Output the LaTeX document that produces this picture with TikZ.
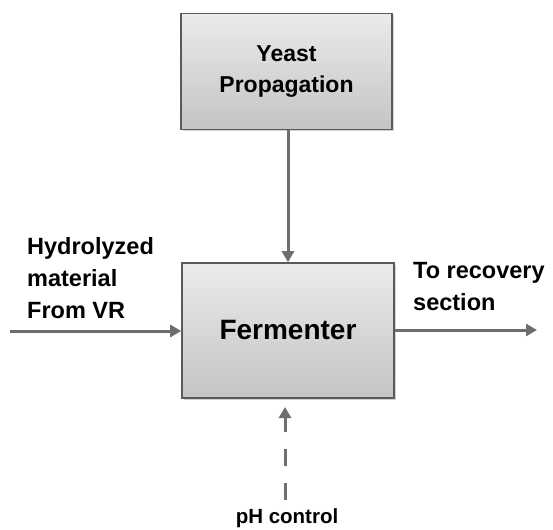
\documentclass[tikz,border=0pt]{standalone}
\usepackage{fontspec}
\setmainfont{Liberation Sans}
\usetikzlibrary{arrows.meta,shadows}
\definecolor{boxborder}{HTML}{5A5A5A}
\definecolor{arrowgray}{HTML}{6E6E6E}
\definecolor{boxtop}{HTML}{EBEBEB}
\definecolor{boxbot}{HTML}{C4C4C4}
\tikzset{
  procbox/.style={draw=boxborder, line width=1.6pt, top color=boxtop, bottom color=boxbot,
    drop shadow={opacity=0.35, shadow xshift=1.5pt, shadow yshift=-1.5pt},
    align=center, inner sep=0pt},
  flow/.style={draw=arrowgray, line width=3pt, -{Triangle[length=11pt,width=12pt]}},
  ctrl/.style={flow, dash pattern=on 17pt off 17pt},
  lbl/.style={font=\fontsize{23.5}{32}\selectfont\bfseries, align=left, inner sep=0pt, text=black}
}
\begin{document}
\begin{tikzpicture}[x=1pt,y=1pt]
\useasboundingbox (0,0) rectangle (553,-529);
\node[procbox, minimum width=211pt, minimum height=116pt, font=\fontsize{23}{31}\selectfont\bfseries]
  (yeast) at (286.5,-71.5) {Yeast\\Propagation};
\node[procbox, minimum width=212pt, minimum height=135pt, font=\fontsize{28}{32}\selectfont\bfseries]
  (ferm) at (288,-330.5) {Fermenter};
\coordinate (inL) at (10,-331);
\coordinate (outR) at (537,-330);
\coordinate (phS) at (285,-500);
\draw[flow] (yeast.south -| ferm.north) -- (ferm.north);
\draw[flow] (inL) -- (ferm.west |- inL);
\draw[flow] (ferm.east |- outR) -- (outR);
\coordinate (phE) at (285,-407);
\draw[ctrl] (phS) -- (phE);
\node[lbl, anchor=north west] (hyd) at (27,-237) {Hydrolyzed\\material\\From VR};
\node[lbl, anchor=north west] (rec) at (413,-262) {To recovery\\section};
\node[lbl, font=\fontsize{20.5}{24}\selectfont\bfseries] (ph) at (287,-518) {pH control};
\end{tikzpicture}
\end{document}
